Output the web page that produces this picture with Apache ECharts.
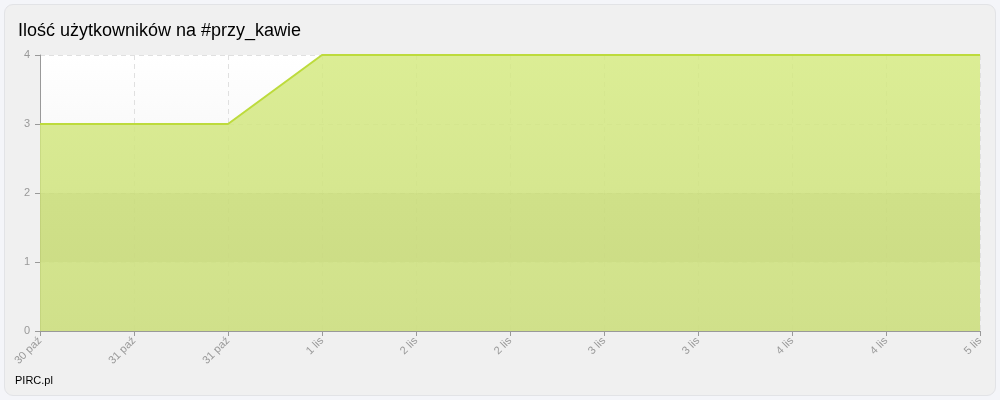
<!DOCTYPE html>
<html><head><meta charset="utf-8">
<script src="https://cdn.jsdelivr.net/npm/echarts@6/dist/echarts.min.js"></script>
<style>
html,body{margin:0;padding:0;background:#f4f5f9;}
#wrap{position:absolute;left:4px;top:4px;width:990px;height:390px;border:1px solid #e2e3e6;border-radius:9px;background:#f0f0f0;overflow:hidden;}
#c{width:990px;height:390px;}
</style></head>
<body><div id="wrap"><div id="c"></div></div>
<script>
const categories = ["30 paź","31 paź","31 paź","1 lis","2 lis","2 lis","3 lis","3 lis","4 lis","4 lis","5 lis"];
const users = [3,3,3,4,4,4,4,4,4,4,4];
const yTicks = {min:0, max:4, interval:1};
const shadedBand = [1,2];
const chart = echarts.init(document.getElementById('c'));
chart.setOption({
  animation:false,
  title:[{text:"Ilość użytkowników na #przy_kawie",left:8,top:12,textStyle:{fontFamily:"Liberation Sans, Arial",fontSize:18,fontWeight:'normal',color:'#000'}},
         {text:"PIRC.pl",left:5,top:365,textStyle:{fontFamily:"Liberation Sans, Arial",fontSize:11,fontWeight:'normal',color:'#000'}}],
  grid:{left:35,right:15,top:50,bottom:64,show:true,borderWidth:0,
    backgroundColor:{type:'linear',x:0,y:0,x2:0,y2:1,colorStops:[{offset:0,color:'#ffffff'},{offset:1,color:'#ececec'}]}},
  xAxis:{type:'category',data:categories,boundaryGap:false,
    axisLine:{lineStyle:{color:'#999',width:1}},
    axisTick:{show:true,alignWithLabel:true,length:5,lineStyle:{color:'#999'}},
    axisLabel:{rotate:45,color:'#999',fontSize:11,fontFamily:"Liberation Sans, Arial",margin:8,interval:0},
    splitLine:{show:true,lineStyle:{color:'#e0e0e0',type:[5,4]}}},
  yAxis:{type:'value',min:yTicks.min,max:yTicks.max,interval:yTicks.interval,
    axisLine:{show:true,lineStyle:{color:'#999'}},
    axisTick:{show:true,length:5,lineStyle:{color:'#999'}},
    axisLabel:{color:'#999',fontSize:11,fontFamily:"Liberation Sans, Arial",margin:10},
    splitLine:{show:true,lineStyle:{color:'#e0e0e0',type:[5,4]}}},
  series:[{type:'line',data:users,symbol:'none',z:2,
    lineStyle:{color:'#bddb3c',width:2},
    areaStyle:{opacity:0.85,color:{type:'linear',x:0,y:0,x2:0,y2:1,colorStops:[{offset:0,color:'#d5ea82'},{offset:1,color:'#cbde79'}]}}
  },{type:'line',data:[],z:5,silent:true,
    markArea:{silent:true,z:5,itemStyle:{color:'rgba(90,90,0,0.045)'},data:[[{yAxis:shadedBand[0]},{yAxis:shadedBand[1]}]]}
  }]
});
</script></body></html>
